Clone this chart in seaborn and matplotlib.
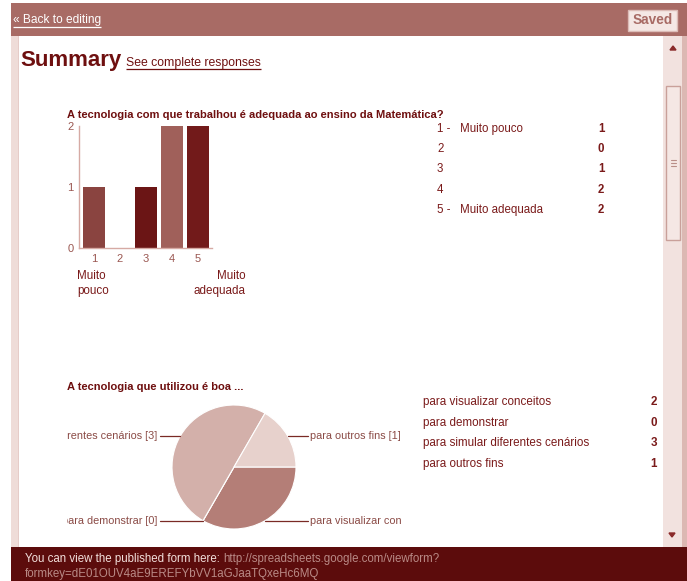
import matplotlib
matplotlib.use("Agg")
import matplotlib.pyplot as plt
import seaborn as sns
import numpy as np
import pandas as pd
from matplotlib.patches import Rectangle, FancyBboxPatch, Polygon

# ---------------- data ----------------
bar_title = "A tecnologia com que trabalhou é adequada ao ensino da Matemática?"
bar_cats = ["1", "2", "3", "4", "5"]
bar_counts = [1, 0, 1, 2, 2]
bar_prefix = ["1 -", "2", "3", "4", "5 -"]
bar_desc = ["Muito pouco", "", "", "", "Muito adequada"]
bar_low_label = ["Muito", "pouco"]
bar_high_label = ["Muito", "adequada"]

pie_title = "A tecnologia que utilizou é boa ..."
pie_cats = ["para visualizar conceitos", "para demonstrar",
            "para simular diferentes cenários", "para outros fins"]
pie_counts = [2, 0, 3, 1]

footer_text = "You can view the published form here:"
footer_url1 = "http://spreadsheets.google.com/viewform?"
footer_url2 = "formkey=dE01OUV4aE9EREFYbVV1aGJaaTQxeHc6MQ"

# ---------------- style ----------------
bar_colors = ["#8a4440", "#8a4440", "#6b1515", "#a0605a", "#721a1a"]
pie_colors = ["#b47e77", "#c79690", "#d3b0aa", "#e7d1cc"]
DARK = "#6e0f0f"
TXT = "#7a1a1a"
FS = 8.2

sns.set_theme(style="white")
plt.rcParams['font.family'] = ['Liberation Sans', 'DejaVu Sans']

W, H = 687, 581
fig = plt.figure(figsize=(W / 100, H / 100), dpi=100)
fig.patch.set_facecolor('white')


def frac(x0, y0, x1, y1):
    return [x0 / W, 1 - y1 / H, (x1 - x0) / W, (y1 - y0) / H]


bg = fig.add_axes([0, 0, 1, 1])
bg.set_xlim(0, W)
bg.set_ylim(H, 0)
bg.axis('off')
bg.set_zorder(0)

# page chrome
bg.add_patch(Rectangle((11, 3), W - 11, 33, color="#a86b65", lw=0))
bg.add_patch(Rectangle((11, 36), 7, 512, color="#efdcd8", lw=0))
bg.add_patch(Rectangle((18, 36), 1, 512, color="#e6ccc8", lw=0))
bg.add_patch(Rectangle((663, 36), 19, 512, color="#f2e2df", lw=0))
bg.add_patch(Rectangle((682, 36), 5, 512, color="#dcb8b3", lw=0))
bg.add_patch(Rectangle((666, 86), 14, 154, fc="#f5e7e4", ec="#c9a09a", lw=1))
for gy in (160, 163, 166):
    bg.plot([670.5, 675.5], [gy, gy], color="#b98e88", lw=0.8)
bg.add_patch(Polygon([[670, 50], [676, 50], [673, 46]], closed=True, color="#8a2a2a"))
bg.add_patch(Polygon([[669, 533], [675, 533], [672, 537]], closed=True, color="#8a2a2a"))
bg.add_patch(Rectangle((11, 547), W - 11, 34, color="#5c0c0c", lw=0))

fig.canvas.draw()
renderer = fig.canvas.get_renderer()


def underline(t, y, color, lw=0.9):
    bb = t.get_window_extent(renderer)
    bg.plot([bb.x0, bb.x1], [y, y], color=color, lw=lw, solid_capstyle='butt')


t = bg.text(13, 20, "« Back to editing", color="white", fontsize=8.6, va='center')
underline(t, 26.5, "white")

bg.add_patch(FancyBboxPatch((628, 10), 49, 21, boxstyle="square,pad=0",
                            fc="#f5e8e5", ec="#dcbcb7", lw=1))
bg.text(652.5, 20.5, "Saved", color="#a86b65", fontsize=9.8, fontweight='bold',
        ha='center', va='center')

bg.text(20, 66, "Summary", color=DARK, fontsize=16, fontweight='bold', va='baseline')
t = bg.text(126, 66, "See complete responses", color=DARK, fontsize=8.8, va='baseline')
underline(t, 69, DARK)

# ---------------- bar chart ----------------
bg.text(67, 118, bar_title, color=DARK, fontsize=8.05, fontweight='bold', va='baseline')
ax = fig.add_axes(frac(79, 126, 212, 248))
ax.set_zorder(2)
ax.patch.set_alpha(0)
df_bar = pd.DataFrame({"cat": bar_cats, "n": bar_counts})
sns.barplot(data=df_bar, x="cat", y="n", hue="cat", palette=bar_colors,
            legend=False, width=0.846, saturation=1, ax=ax, linewidth=0)
ax.set_xlim(-0.58, 4.54)
ax.set_ylim(0, 2)
ax.set_yticks([0, 1, 2])
ax.set_xlabel("")
ax.set_ylabel("")
for s in ("top", "right"):
    ax.spines[s].set_visible(False)
for s in ("left", "bottom"):
    ax.spines[s].set_color("#d6aaa4")
    ax.spines[s].set_linewidth(1)
ax.tick_params(axis='both', length=2.5, width=0.8, color="#d6aaa4",
               labelsize=8, labelcolor="#9a5751", pad=1.5)

bg.text(77, 279, bar_low_label[0], color=TXT, fontsize=8.4, va='baseline', ha='left')
bg.text(77, 294, bar_low_label[1], color=TXT, fontsize=8.4, va='baseline', ha='left')
bg.text(246, 279, bar_high_label[0], color=TXT, fontsize=8.4, va='baseline', ha='right')
bg.text(246, 294, bar_high_label[1], color=TXT, fontsize=8.4, va='baseline', ha='right')

for i, (p, d, n) in enumerate(zip(bar_prefix, bar_desc, bar_counts)):
    y = 129 + i * 20.2
    bg.text(437, y, p, color=TXT, fontsize=8.3, va='center')
    bg.text(460, y, d, color=TXT, fontsize=8.3, va='center')
    bg.text(598, y, str(n), color=TXT, fontsize=8.3, fontweight='bold', va='center')

# ---------------- pie chart ----------------
bg.text(67, 390, pie_title, color=DARK, fontsize=8.05, fontweight='bold', va='baseline')
cx, cy, R = 234, 467, 62
px0, px1, py0, py1 = 67, 402, 395, 535
pax = fig.add_axes(frac(px0, py0, px1, py1))
pax.set_zorder(2)
wedges, _ = pax.pie(pie_counts, colors=pie_colors, startangle=0, counterclock=False,
                    radius=1, wedgeprops=dict(edgecolor="white", linewidth=0.8))
pax.set_aspect('auto')
pax.set_xlim((px0 - cx) / R, (px1 - cx) / R)
pax.set_ylim((cy - py1) / R, (cy - py0) / R)
pax.axis('off')
for w, name, n in zip(wedges, pie_cats, pie_counts):
    mid = np.deg2rad((w.theta1 + w.theta2) / 2)
    xe, ye = np.cos(mid), np.sin(mid)
    side = 1 if xe > 0 else -1
    pax.plot([xe, side * 1.19], [ye, ye], color="#7a2a25", lw=0.9, clip_on=True)
    pax.text(side * 1.23, ye, f"{name} [{n}]", color="#8a4a45", fontsize=7.8,
             ha='left' if side > 0 else 'right', va='center', clip_on=True)

for i, (name, n) in enumerate(zip(pie_cats, pie_counts)):
    y = 402 + i * 20.7
    bg.text(423, y, name, color=TXT, fontsize=8.4, va='center')
    bg.text(657, y, str(n), color=TXT, fontsize=8.4, fontweight='bold', va='center',
            ha='right')

# ---------------- footer ----------------
t = bg.text(25, 559, footer_text, color="#f3e0dc", fontsize=8.3, va='center')
bb = t.get_window_extent(renderer)
bg.text(bb.x1 + 3, 559, footer_url1, color="#b98a86", fontsize=8.3, va='center')
bg.text(25, 574, footer_url2, color="#b98a86", fontsize=8.3, va='center')

fig.savefig("out.png", dpi=100, facecolor='white')
